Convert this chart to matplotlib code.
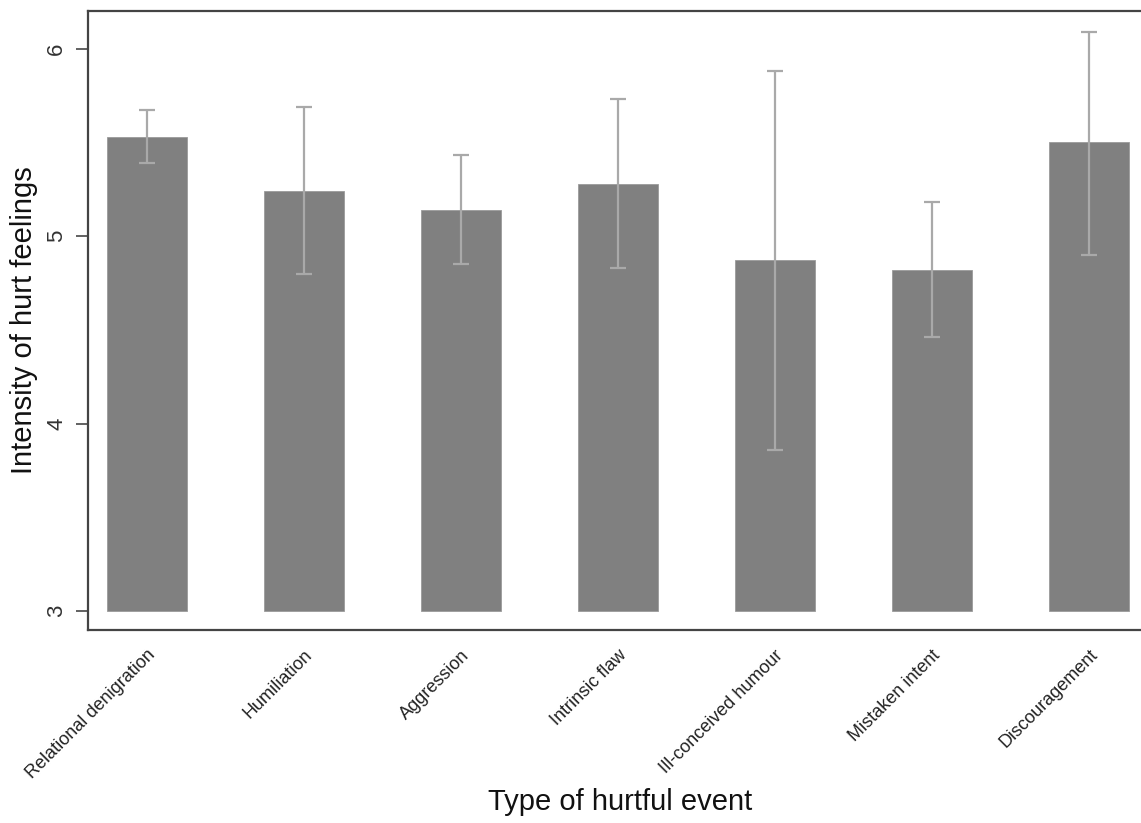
import matplotlib
matplotlib.use("Agg")
import matplotlib.pyplot as plt

plt.rcParams['font.family'] = ['Liberation Sans', 'DejaVu Sans']

# --- data ---
categories = ["Relational denigration", "Humiliation", "Aggression", "Intrinsic flaw",
              "Ill-conceived humour", "Mistaken intent", "Discouragement"]
means = [5.53, 5.24, 5.14, 5.28, 4.87, 4.82, 5.50]
ci_upper = [5.67, 5.69, 5.43, 5.73, 5.88, 5.18, 6.09]
ci_lower = [5.39, 4.80, 4.85, 4.83, 3.86, 4.46, 4.90]
y_ticks = [3, 4, 5, 6]
base = 3

err_lo = [m - lo for m, lo in zip(means, ci_lower)]
err_hi = [hi - m for m, hi in zip(means, ci_upper)]
heights = [m - base for m in means]
xs = list(range(len(categories)))

W, H = 1141, 823
fig = plt.figure(figsize=(W / 100, H / 100), dpi=100)
# axes runs off the right edge like the reference
ax = fig.add_axes([88 / W, (H - 630) / H, 1095 / W, 619 / H])

ax.bar(xs, heights, bottom=base, width=0.51, color="#808080",
       edgecolor="#9a9a9a", linewidth=0.6, zorder=2)
ax.errorbar(xs, means, yerr=[err_lo, err_hi], fmt="none", ecolor="#a9a9a9",
            elinewidth=1.6, capsize=5.5, capthick=1.6, zorder=3)

ax.set_xlim(-0.376, 6.6)
ax.set_ylim(2.90, 6.20)

ax.set_yticks(y_ticks)
ax.set_yticklabels([str(t) for t in y_ticks], rotation=90, va="center", fontsize=16,
                   color="#333333")
ax.tick_params(axis="y", length=9, width=1.3, color="#555555", pad=6)

ax.set_xticks(xs)
ax.set_xticklabels(categories, rotation=45, ha="right", rotation_mode="anchor",
                   fontsize=13, color="#222222")
ax.tick_params(axis="x", length=0, pad=12)

for side in ["top", "bottom", "left"]:
    ax.spines[side].set_color("#444444")
    ax.spines[side].set_linewidth(1.6)
ax.spines["right"].set_visible(False)

ax.set_ylabel("Intensity of hurt feelings", fontsize=21, color="#111111")
ax.yaxis.set_label_coords(-0.046, 0.50)
ax.set_xlabel("Type of hurtful event", fontsize=21, color="#111111")
ax.xaxis.set_label_coords(0.486, -0.255)

fig.savefig("out.png", dpi=100)
